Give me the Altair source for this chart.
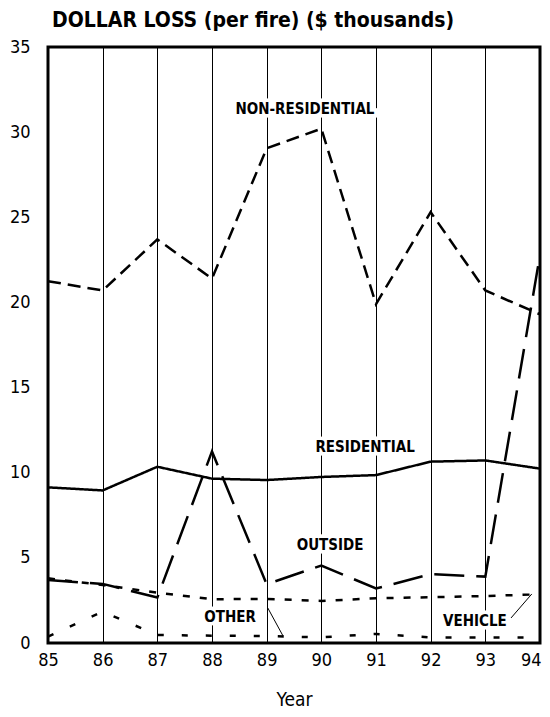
import altair as alt
import pandas as pd

years = [85, 86, 87, 88, 89, 90, 91, 92, 93, 94]
non_residential = [21.25, 20.7, 23.7, 21.4, 29.05, 30.2, 19.9, 25.3, 20.7, 19.3]
residential = [9.14, 8.96, 10.35, 9.65, 9.57, 9.75, 9.86, 10.65, 10.72, 10.24]
outside = [3.7, 3.47, 2.67, 11.25, 3.45, 4.55, 3.2, 4.04, 3.9, 22.8]
vehicle = [3.8, 3.4, 2.96, 2.57, 2.59, 2.47, 2.63, 2.69, 2.76, 2.86]
other = [0.37, 1.84, 0.47, 0.43, 0.41, 0.33, 0.53, 0.33, 0.33, 0.33]

series_names = ["NON-RESIDENTIAL", "RESIDENTIAL", "OUTSIDE", "VEHICLE", "OTHER"]
series_values = [non_residential, residential, outside, vehicle, other]
dash_styles = [[13, 7], [1, 0], [30, 12], [7, 10], [6, 18]]

label_text = ["NON-RESIDENTIAL", "RESIDENTIAL", "OUTSIDE", "OTHER", "VEHICLE"]
label_x = [89.7, 90.8, 90.16, 88.33, 92.81]
label_y = [31.35, 11.5, 5.76, 1.53, 1.29]

leader_x = [89.02, 93.47]
leader_y = [2.06, 1.47]
leader_x2 = [89.3, 93.85]
leader_y2 = [0.41, 2.88]

rows = []
for name, vals in zip(series_names, series_values):
    for yr, v in zip(years, vals):
        rows.append({"Year": yr, "Loss": v, "Series": name})
df = pd.DataFrame(rows)

labels_df = pd.DataFrame({"text": label_text, "x": label_x, "y": label_y})
leaders_df = pd.DataFrame({"x": leader_x, "y": leader_y, "x2": leader_x2, "y2": leader_y2})

FONT = "DejaVu Sans Condensed, Liberation Sans, sans-serif"

xscale = alt.Scale(domain=[85, 94], nice=False, zero=False)
yscale = alt.Scale(domain=[0, 35], nice=False)

lines = alt.Chart(df).mark_line(color="black", strokeWidth=2.5).encode(
    x=alt.X("Year:Q", scale=xscale,
            axis=alt.Axis(values=years, format="d", title="Year", grid=True,
                          gridColor="black", gridWidth=1, gridOpacity=1, ticks=False,
                          domain=False, labelFontSize=18, labelPadding=8,
                          titleFontSize=19, titleFontWeight="normal", titlePadding=21,
                          labelFont=FONT, titleFont=FONT, labelColor="black",
                          titleColor="black", labelFlush=False,
                          labelAlign={"condition": {"test": "datum.value == 94", "value": "right"},
                                      "value": "center"},
                          labelOffset={"condition": {"test": "datum.value == 94", "value": 1},
                                       "value": 0})),
    y=alt.Y("Loss:Q", scale=yscale,
            axis=alt.Axis(values=[0, 5, 10, 15, 20, 25, 30, 35], title=None, grid=False,
                          ticks=False, domain=False, labelFontSize=18, labelPadding=18,
                          labelFont=FONT, labelColor="black")),
    strokeDash=alt.StrokeDash("Series:N",
                              scale=alt.Scale(domain=series_names, range=dash_styles),
                              legend=None),
    detail="Series:N",
)

halo = alt.Chart(labels_df).mark_text(
    font=FONT, fontSize=15, fontWeight="bold", stroke="white", strokeWidth=7,
    color="white"
).encode(x=alt.X("x:Q", scale=xscale), y=alt.Y("y:Q", scale=yscale), text="text:N")

texts = alt.Chart(labels_df).mark_text(
    font=FONT, fontSize=15, fontWeight="bold", color="black"
).encode(x=alt.X("x:Q", scale=xscale), y=alt.Y("y:Q", scale=yscale), text="text:N")

leaders = alt.Chart(leaders_df).mark_rule(color="black", strokeWidth=1).encode(
    x=alt.X("x:Q", scale=xscale), y=alt.Y("y:Q", scale=yscale),
    x2="x2:Q", y2="y2:Q"
)

chart = alt.layer(lines, halo, texts, leaders).properties(
    width=492, height=596,
    title=alt.TitleParams("DOLLAR LOSS (per fire) ($ thousands)", anchor="start",
                          fontSize=21, font=FONT, fontWeight="bold", color="black",
                          offset=7, dx=4, frame="group"),
    autosize=alt.AutoSizeParams(type="none"),
    padding={"left": 40, "top": 39, "right": 2, "bottom": 66},
).configure_view(stroke="black", strokeWidth=3)

chart.save("out.html", embed_options={"renderer": "svg", "actions": False})
